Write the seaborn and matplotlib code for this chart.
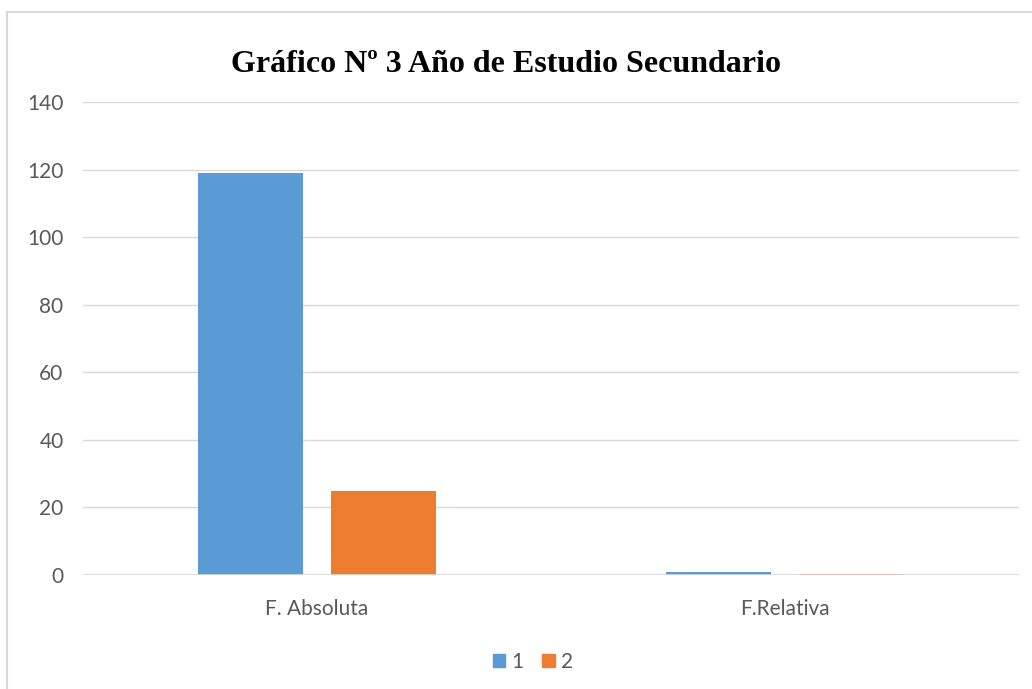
import matplotlib
matplotlib.use("Agg")
import matplotlib.pyplot as plt
import seaborn as sns
import pandas as pd
from matplotlib.patches import Rectangle

categories = ["F. Absoluta", "F.Relativa"]
series_names = ["1", "2"]
series_1 = [119, 0.83]
series_2 = [25, 0.17]
y_ticks = [0, 20, 40, 60, 80, 100, 120, 140]
title = "Gráfico Nº 3 Año de Estudio Secundario"

df = pd.DataFrame({
    "cat": categories * 2,
    "serie": [series_names[0]] * 2 + [series_names[1]] * 2,
    "val": series_1 + series_2,
})

sns.set_theme(style="white")
plt.rcParams["font.family"] = ["Lato", "DejaVu Sans"]

fig = plt.figure(figsize=(10.32, 6.89), dpi=100)
ax = fig.add_axes([83 / 1032, 1 - 575 / 689, (1019 - 83) / 1032, (575 - 102) / 689])

palette = {"1": "#5B9BD5", "2": "#ED7D31"}
sns.barplot(data=df, x="cat", y="val", hue="serie", palette=palette,
            width=0.57, gap=0.21, saturation=1, ax=ax, legend=False, linewidth=0)

ax.set_xlim(-0.5, 1.5)
ax.set_ylim(0, 140)
ax.set_yticks(y_ticks)
ax.yaxis.grid(True, color="#D9D9D9", linewidth=1)
ax.set_axisbelow(True)
for s in ax.spines.values():
    s.set_visible(False)
ax.axhline(0, color="#D9D9D9", linewidth=1.2, zorder=3)
ax.set_xlabel("")
ax.set_ylabel("")
ax.tick_params(axis="both", length=0, labelsize=15, labelcolor="#595959")
ax.tick_params(axis="y", pad=14)
ax.tick_params(axis="x", pad=17)

fig.text(506 / 1032, 1 - 64 / 689, title, ha="center", va="center",
         fontsize=23, fontweight="bold", family="Liberation Serif", color="black")

# legend
handles = [Rectangle((0, 0), 1, 1, color=palette[n]) for n in series_names]
fig.legend(handles, series_names, loc="center", bbox_to_anchor=(533 / 1032, 1 - 662 / 689),
           ncol=2, frameon=False, fontsize=15, handlelength=0.6, handleheight=0.6,
           handletextpad=0.3, columnspacing=0.9, labelcolor="#595959")

# chart border
fig.add_artist(Rectangle((7 / 1032, -0.01), 1.1, 1 - 12 / 689 + 0.01, transform=fig.transFigure,
                         fill=False, edgecolor="#D9D9D9", linewidth=1.5))

fig.savefig("out.png", dpi=100)
